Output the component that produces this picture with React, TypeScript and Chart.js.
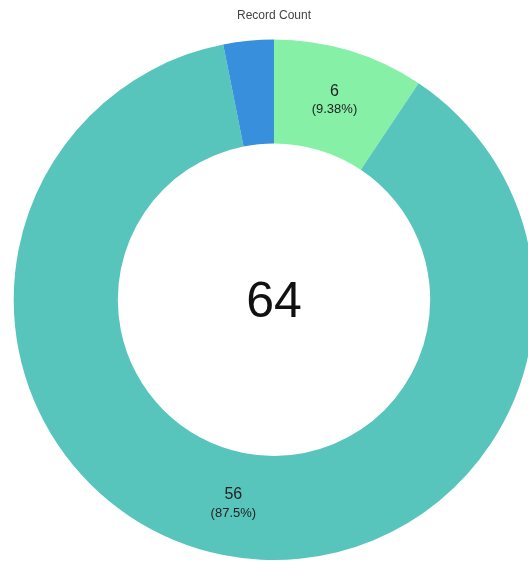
import React, { useEffect, useRef } from "react";
import { Chart, registerables } from "chart.js";

Chart.register(...registerables);

const categories = ["Category A", "Category B", "Category C"];
const values = [6, 56, 2];
const colors = ["#85f0a6", "#57c5bc", "#388fdb"];
const titleText = "Record Count";

const labelPlugin = {
  id: "sliceLabels",
  afterDatasetsDraw(chart: any) {
    const ctx = chart.ctx;
    const meta = chart.getDatasetMeta(0);
    const data = chart.data.datasets[0].data as number[];
    const sum = data.reduce((a, b) => a + b, 0);
    ctx.save();
    meta.data.forEach((arc: any, i: number) => {
      const v = data[i];
      if (v / sum < 0.05) return;
      const p = arc.tooltipPosition();
      const pct = Number(((v / sum) * 100).toFixed(2));
      ctx.fillStyle = "#222";
      ctx.textAlign = "center";
      ctx.textBaseline = "middle";
      ctx.font = "16px 'Liberation Sans', Arial, sans-serif";
      ctx.fillText(String(v), p.x, p.y - 9);
      ctx.font = "13px 'Liberation Sans', Arial, sans-serif";
      ctx.fillText("(" + pct + "%)", p.x, p.y + 9);
    });
    const cx = (chart.chartArea.left + chart.chartArea.right) / 2;
    const cy = (chart.chartArea.top + chart.chartArea.bottom) / 2;
    ctx.fillStyle = "#111";
    ctx.font = "50px 'Liberation Sans', Arial, sans-serif";
    ctx.textAlign = "center";
    ctx.textBaseline = "middle";
    ctx.fillText(String(sum), cx, cy + 4);
    ctx.restore();
  },
};

export default function App() {
  const ref = useRef<HTMLCanvasElement>(null);
  useEffect(() => {
    if (!ref.current) return;
    const chart = new Chart(ref.current, {
      type: "doughnut",
      data: {
        labels: categories,
        datasets: [
          {
            data: values,
            backgroundColor: colors,
            borderWidth: 0,
          },
        ],
      },
      options: {
        animation: false,
        responsive: false,
        cutout: "60%",
        layout: { padding: 0 },
        plugins: {
          legend: { display: false },
          tooltip: { enabled: false },
          title: {
            display: true,
            text: titleText,
            color: "#444",
            font: { family: "'Liberation Sans', Arial, sans-serif", size: 12, weight: "normal" },
            padding: { top: 0, bottom: 17 },
          },
        },
      },
      plugins: [labelPlugin],
    });
    return () => chart.destroy();
  }, []);
  return (
    <div
      style={{
        position: "fixed",
        left: 0,
        top: 0,
        width: 528,
        height: 563,
        overflow: "hidden",
        background: "#fff",
      }}
    >
      <canvas
        ref={ref}
        width={532}
        height={552}
        style={{ display: "block", marginLeft: 8, marginTop: 8 }}
      />
    </div>
  );
}
